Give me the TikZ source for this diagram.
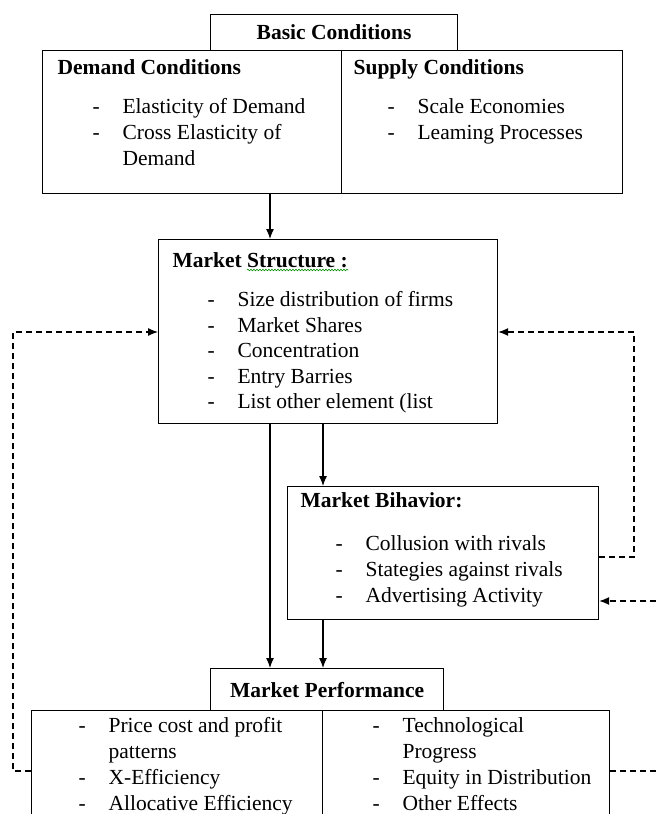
\documentclass[tikz,border=0pt]{standalone}
\usepackage{fontspec}
\setmainfont{Liberation Serif}
\usetikzlibrary{arrows.meta,decorations.pathmorphing}

\newcommand{\itm}[1]{\makebox[30pt][l]{-}#1}
\newcommand{\cont}[1]{\hspace*{30pt}#1}

\tikzset{
  box/.style={draw,line width=1.2pt,rectangle,inner sep=0pt,anchor=north west,
              font=\fontsize{21.5}{26}\selectfont\bfseries},
  txt/.style={anchor=west,inner sep=0pt,text height=15pt,text depth=4pt,
              font=\fontsize{21.5}{26}\selectfont},
  head/.style={txt,font=\fontsize{21.5}{26}\selectfont\bfseries},
  fb/.style={line width=1.2pt,dash pattern=on 6pt off 4pt},
  spell/.style={green!55!black,line width=0.6pt,decorate,
                decoration={snake,amplitude=0.8pt,segment length=3pt}}
}

\begin{document}
\begin{tikzpicture}[x=1pt,y=-1pt,>={Latex[length=10pt,width=8pt]},line width=1.2pt]
\useasboundingbox (0,0) rectangle (656,814);
\clip (0,0) rectangle (656,814);

% boxes
\node[box,minimum width=247pt,minimum height=36pt] (basic) at (210,14) {Basic Conditions};
\node[box,minimum width=299pt,minimum height=143pt] (dem) at (42,50) {};
\node[box,minimum width=281pt,minimum height=143pt] (sup) at (341,50) {};
\node[box,minimum width=339pt,minimum height=184pt] (struct) at (158,239) {};
\node[box,minimum width=311pt,minimum height=133pt] (behav) at (287,486) {};
\node[box,minimum width=233pt,minimum height=42pt] (perf) at (210,668) {Market Performance};
\node[box,minimum width=291pt,minimum height=130pt] (perfl) at (31,710) {};
\node[box,minimum width=287pt,minimum height=130pt] (perfr) at (322,710) {};

% texts
\node[head] (demh) at (57,69) {Demand Conditions};
\foreach \t [count=\i] in {\itm{Elasticity of Demand},\itm{Cross Elasticity of},\cont{Demand}}
  \node[txt] (dem\i) at (92,82+26*\i) {\t};

\node[head] (suph) at (353,69) {Supply Conditions};
\foreach \t [count=\i] in {\itm{Scale Economies},\itm{Leaming Processes}}
  \node[txt] (sup\i) at (387,82+26*\i) {\t};

\node[head] (msh) at (172,262) {Market Structure :};
\draw[spell] ([xshift=75pt,yshift=-2.5pt]msh.base west) -- ([yshift=-2.5pt]msh.base east);
\foreach \t [count=\i] in {\itm{Size distribution of firms},\itm{Market Shares},\itm{Concentration},
                          \itm{Entry Barries},\itm{List other element (list}}
  \node[txt] (ms\i) at (207,275.5+25.5*\i) {\t};

\node[head] (mbh) at (300,502) {Market Bihavior:};
\foreach \t [count=\i] in {\itm{Collusion with rivals},\itm{Stategies against rivals},\itm{Advertising Activity}}
  \node[txt] (mb\i) at (335,519+26*\i) {\t};

\foreach \t [count=\i] in {\itm{Price cost and profit},\cont{patterns},\itm{X-Efficiency},\itm{Allocative Efficiency}}
  \node[txt] (pl\i) at (78,701+26*\i) {\t};
\foreach \t [count=\i] in {\itm{Technological},\cont{Progress},\itm{Equity in Distribution},\itm{Other Effects}}
  \node[txt] (pr\i) at (372,701+26*\i) {\t};

% connectors
\coordinate (xa) at (270,0);
\coordinate (xb) at (323,0);
\draw[->] (dem.south -| xa) -- (struct.north -| xa);
\draw[->] (struct.south -| xa) -- (perf.north -| xa);
\draw[->] (struct.south -| xb) -- (behav.north -| xb);
\draw[->] (behav.south -| xb) -- (perf.north -| xb);

% feedback loops
\coordinate (ys) at (0,332);
\coordinate (yl) at (0,771);
\coordinate (yc) at (0,557);
\coordinate (ya) at (0,601);
\coordinate (lx) at (13,0);
\coordinate (rx) at (634,0);
\coordinate (rim) at (656,0);
\draw[fb,->] (perfl.west |- yl) -| (lx |- ys) -- (struct.west |- ys);
\draw[fb,->] (behav.east |- yc) -| (rx |- ys) -- (struct.east |- ys);
\draw[fb,->] (rim |- ya) -- (behav.east |- ya);
\draw[fb] (perfr.east |- yl) -- (rim |- yl);

\end{tikzpicture}
\end{document}
